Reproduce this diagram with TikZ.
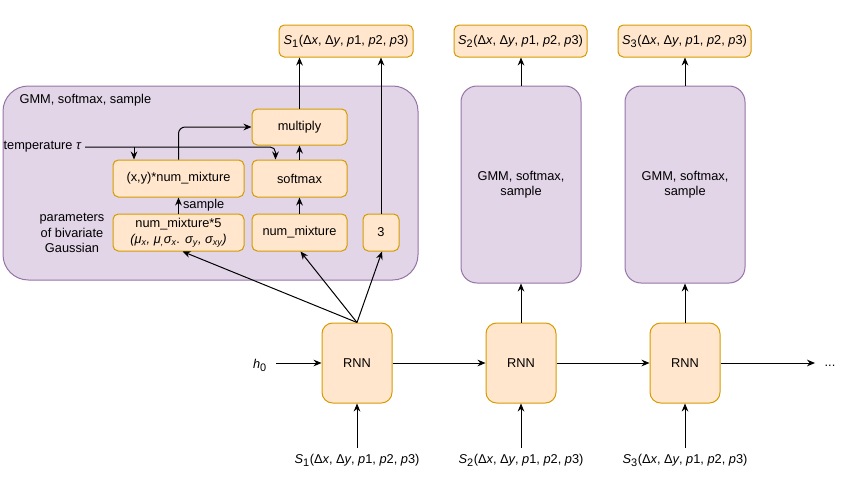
\documentclass[tikz,border=0pt]{standalone}
\usepackage{fontspec}
\setmainfont{Liberation Sans}
\usetikzlibrary{arrows.meta,fit,calc}
\definecolor{pfill}{HTML}{E1D5E7}
\definecolor{pline}{HTML}{9673A6}
\definecolor{ofill}{HTML}{FFE6CC}
\definecolor{oline}{HTML}{D79B00}
% a sequence label  S_k(dx, dy, p1, p2, p3)
\newcommand{\seqlabel}[1]{\textit{S}\textsubscript{\fontsize{8.2}{9}\selectfont#1}(Δ\textit{x}, Δ\textit{y}, \textit{p}1, \textit{p}2, \textit{p}3)}
\begin{document}
\begin{tikzpicture}[x=0.75pt,y=-0.75pt,
  font=\fontsize{9.6}{11.5}\selectfont,
  obox/.style={draw=oline, fill=ofill, line width=0.75pt, rounded corners=4pt,
               inner sep=0pt, align=center},
  rbox/.style={obox, rounded corners=8pt},
  pbox/.style={draw=pline, fill=pfill, line width=0.75pt, rounded corners=12pt,
               inner sep=0pt, align=center},
  bigbox/.style={pbox, rounded corners=19pt},
  txt/.style={inner sep=1pt, align=center},
  arr/.style={-{Stealth[length=6pt,width=5pt]}, line width=0.75pt},
  ln/.style={line width=0.75pt}]
\useasboundingbox (0,0) rectangle (848,489);

% ---------- expanded GMM block ----------
\node[bigbox, fit={(3,86) (418,280)}] (gmm1) {};
\node[txt, anchor=west] (gmmlbl) at (18,100) {GMM, softmax, sample};

\node[obox, fit={(252,109) (347,145)}] (mult) {};
\node at (mult) {multiply};
\node[obox, fit={(252,160) (347,197)}] (sm) {};
\node at (sm) {softmax};
\node[obox, fit={(113,160) (244,197)}] (xy) {};
\node at (xy) {(x,y)*num\_mixture};
\node[obox, fit={(113,214) (244,251)}] (nm5) {};
\node[align=center, font=\fontsize{9.6}{12}\selectfont] at (nm5)
  {num\_mixture*5\\\textit{(μ\textsubscript{x}, μ\textsubscript{,}σ\textsubscript{x}. σ\textsubscript{y}, σ\textsubscript{xy})}};
\node[obox, fit={(252,214) (347,251)}] (nm) {};
\node at (nm) {num\_mixture};
\node[obox, fit={(363,214) (399,251)}] (three) {};
\node at (three) {3};

\node[txt] (params) at (72,233) {parameters\\of bivariate\\Gaussian};
\node[txt, anchor=west] (temp) at (2,147) {temperature \textit{τ}};

% temperature feeds both the sampler and the softmax
\coordinate (tbr) at (134,147);
\coordinate (smin) at ($(sm.north west)+(24,0)$);
\draw[arr, rounded corners=4pt] ($(temp.east)+(2,0)$) -| (smin);
\draw[arr] (tbr) -- (tbr |- xy.north);

\draw[arr] (nm5.north) -- node[right, inner sep=3pt] {sample} (xy.south);
\draw[arr, rounded corners=5pt] (xy.north) |- (mult.west);
\draw[arr] (sm.north) -- (mult.south);
\draw[arr] (nm.north) -- (sm.south);

% ---------- other GMM blocks ----------
\node[pbox, fit={(461,86) (581,283)}] (gmm2) {};
\node[align=center] at (gmm2) {GMM, softmax,\\sample};
\node[pbox, fit={(625,86) (745,283)}] (gmm3) {};
\node[align=center] at (gmm3) {GMM, softmax,\\sample};

% ---------- outputs ----------
\node[obox, fit={(279,25) (413,57)}] (out1) {};
\node at (out1) {\seqlabel{1}};
\node[obox, fit={(454,25) (587,57)}] (out2) {};
\node at (out2) {\seqlabel{2}};
\node[obox, fit={(618,25) (751,57)}] (out3) {};
\node at (out3) {\seqlabel{3}};

\draw[arr] (mult.north) -- (mult.north |- out1.south);
\draw[arr] (three.north) -- (three.north |- out1.south);
\draw[arr] (gmm2.north) -- (gmm2.north |- out2.south);
\draw[arr] (gmm3.north) -- (gmm3.north |- out3.south);

% ---------- RNN chain ----------
\node[rbox, fit={(322,323) (392,403)}] (rnn1) {};
\node at (rnn1) {RNN};
\node[rbox, fit={(486,323) (556,403)}] (rnn2) {};
\node at (rnn2) {RNN};
\node[rbox, fit={(650,323) (720,403)}] (rnn3) {};
\node at (rnn3) {RNN};

\node[txt, inner sep=0pt] (h0) at (260,365) {\textit{h}\textsubscript{\fontsize{8.2}{9}\selectfont 0}};
\node[txt] (dots) at (830,366) {...};
\coordinate (h0out) at (276,363);
\coordinate (tail) at (815,363);

\draw[arr] (h0out) -- (rnn1.west);
\draw[arr] (rnn1.east) -- (rnn2.west);
\draw[arr] (rnn2.east) -- (rnn3.west);
\draw[arr] (rnn3.east) -- (tail);

\draw[arr] (rnn1.north) -- ($(nm5.south)+(4,0)$);
\draw[arr] (rnn1.north) -- ($(nm.south)+(1,0)$);
\draw[arr] (rnn1.north) -- ($(three.south)+(1,0)$);
\draw[arr] (rnn2.north) -- (rnn2.north |- gmm2.south);
\draw[arr] (rnn3.north) -- (rnn3.north |- gmm3.south);

% ---------- inputs ----------
\node[txt] (in1) at (357,460) {\seqlabel{1}};
\node[txt] (in2) at (521,460) {\seqlabel{2}};
\node[txt] (in3) at (685,460) {\seqlabel{3}};
\coordinate (in1top) at (357,448);
\coordinate (in2top) at (521,448);
\coordinate (in3top) at (685,448);
\draw[arr] (in1top) -- (rnn1.south);
\draw[arr] (in2top) -- (rnn2.south);
\draw[arr] (in3top) -- (rnn3.south);
\end{tikzpicture}
\end{document}
